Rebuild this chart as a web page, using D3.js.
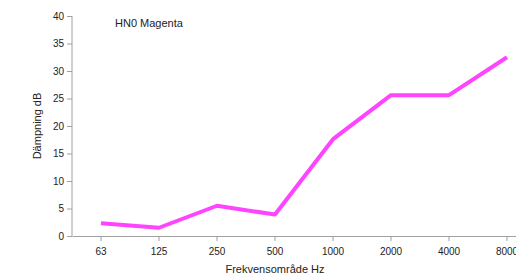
<!DOCTYPE html>
<html>
<head>
<meta charset="utf-8">
<script src="https://cdn.jsdelivr.net/npm/d3@7"></script>
<style>
body { margin: 0; background: #fff; overflow: hidden; }
text { font-family: "Liberation Sans", Arial, sans-serif; fill: #222; }
</style>
</head>
<body>
<div id="chart"></div>
<script>
// data
var freqs = ["63", "125", "250", "500", "1000", "2000", "4000", "8000"];
var damping = [2.3, 1.5, 5.5, 3.9, 17.6, 25.6, 25.6, 32.5];
var yTicks = [0, 5, 10, 15, 20, 25, 30, 35, 40];

var w = 516, h = 276;
var padLeft = 72, padTop = 16, axisY = 236;
var band = 58;

var svg = d3.select("#chart").append("svg")
	.attr("width", w)
	.attr("height", h);

var xScale = d3.scaleBand()
	.domain(freqs)
	.range([padLeft, padLeft + band * freqs.length]);

var yScale = d3.scaleLinear()
	.domain([0, 40])
	.range([axisY, padTop]);

var yAxis = d3.axisLeft(yScale)
	.tickValues(yTicks)
	.tickSize(5)
	.tickPadding(3);

var xAxis = d3.axisBottom(xScale)
	.tickSize(5)
	.tickPadding(7)
	.tickSizeOuter(0);

var gy = svg.append("g")
	.attr("transform", "translate(" + padLeft + ",0)")
	.call(yAxis);

var gx = svg.append("g")
	.attr("transform", "translate(0," + axisY + ")")
	.call(xAxis);

[gx, gy].forEach(function(g) {
	g.selectAll("path, line").attr("stroke", "#a0a0a0");
	g.selectAll("text").style("font-size", "10px").style("fill", "#222");
	g.select(".domain").attr("stroke-width", 1);
});
gy.select(".domain").attr("d", "M0," + padTop + "V" + axisY);

svg.append("path")
	.datum(damping)
	.attr("fill", "none")
	.attr("stroke", "#ff44ff")
	.attr("stroke-width", 4)
	.attr("stroke-linejoin", "round")
	.attr("d", d3.line()
		.x(function(d, i) { return xScale(freqs[i]) + xScale.bandwidth() / 2; })
		.y(function(d) { return yScale(d); })
	);

svg.append("text")
	.attr("x", 115)
	.attr("y", 27)
	.style("font-size", "11px")
	.text("HN0 Magenta");

svg.append("text")
	.attr("transform", "rotate(-90)")
	.attr("x", -(padTop + axisY) / 2)
	.attr("y", 41)
	.style("text-anchor", "middle")
	.style("font-size", "11px")
	.text("Dämpning dB");

svg.append("text")
	.attr("x", 275)
	.attr("y", 273)
	.style("text-anchor", "middle")
	.style("font-size", "11px")
	.text("Frekvensområde Hz");
</script>
</body>
</html>
